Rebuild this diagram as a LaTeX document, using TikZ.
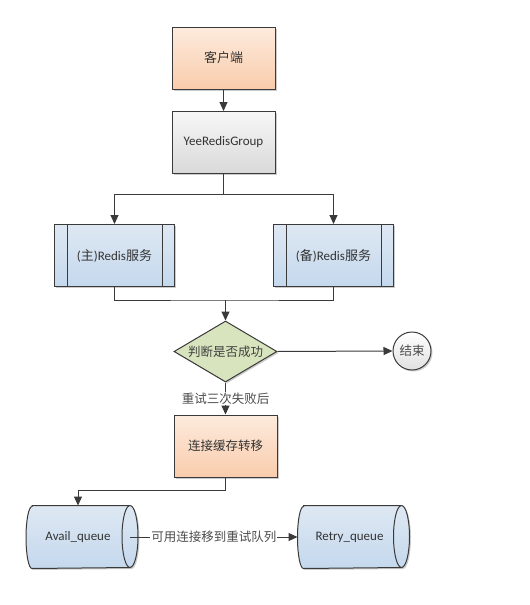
\documentclass[tikz,border=0pt]{standalone}
\usepackage{fontspec}
\setmainfont{Carlito}
\newfontfamily\cjk{Noto Sans CJK SC}
\usepackage{tikz}
\usetikzlibrary{shapes}
\usetikzlibrary{arrows.meta,shadows}
\definecolor{linegray}{HTML}{3A3A3A}
\definecolor{orangetop}{HTML}{FDEBDD}
\definecolor{orangebot}{HTML}{F9CCAC}
\definecolor{graytop}{HTML}{F7F7F7}
\definecolor{graybot}{HTML}{D9D9D9}
\definecolor{bluetop}{HTML}{DEE8F3}
\definecolor{bluebot}{HTML}{C4D8ED}
\definecolor{greenfill}{HTML}{D8E4BE}
\tikzstyle{softshadow}=[drop shadow={shadow xshift=1.5pt,shadow yshift=-1.5pt,fill=black,opacity=0.2}]
\tikzstyle{box}=[draw=linegray, rectangle, minimum width=103pt, minimum height=62pt, inner sep=0pt, font=\fontsize{13}{15}\selectfont, text=black!80, softshadow]
\tikzstyle{orangebox}=[box, top color=orangetop, bottom color=orangebot]
\tikzstyle{graybox}=[box, top color=graytop, bottom color=graybot]
\tikzstyle{bluebox}=[box, minimum width=120pt, top color=bluetop, bottom color=bluebot]
\tikzstyle{queue}=[rectangle, minimum width=103pt, minimum height=62pt, inner sep=0pt, font=\fontsize{13}{15}\selectfont, text=black!80]
\tikzstyle{arrow}=[draw=linegray, -{Triangle[length=9pt,width=8pt]}]
\tikzstyle{lbl}=[fill=white, inner sep=1pt, font=\cjk\fontsize{12.5}{15}\selectfont, text=black!70]

\begin{document}
\begin{tikzpicture}[x=1pt,y=-1pt,line width=1pt]
  \useasboundingbox[fill=white] (0,0) rectangle (530,605);
  % boxes
  \node[orangebox] (client) at (223.5,58) {\cjk 客户端};
  \node[graybox] (group) at (223.5,142.5) {YeeRedisGroup};
  \node[bluebox] (master) at (114.5,255.5) {({\cjk 主})Redis{\cjk 服务}};
  \node[bluebox] (backup) at (333.5,255.5) {({\cjk 备})Redis{\cjk 服务}};
  \foreach \n in {master,backup} {
    \draw[linegray] ([xshift=13pt]\n.north west) -- ([xshift=13pt]\n.south west);
    \draw[linegray] ([xshift=-13pt]\n.north east) -- ([xshift=-13pt]\n.south east);
  }
  \node[draw=linegray, diamond, aspect=1.69, minimum width=103pt, minimum height=61pt, inner sep=0pt, fill=greenfill, softshadow, font=\cjk\fontsize{12.5}{15}\selectfont, text=black!75] (judge) at (225.5,351.5) {判断是否成功};
  \node[draw=linegray, circle, minimum size=38pt, inner sep=0pt, top color=white, bottom color=black!12, softshadow, font=\cjk\fontsize{12.5}{15}\selectfont, text=black!70] (end) at (412,351) {结束};
  \node[orangebox, font=\cjk\fontsize{12.5}{15}\selectfont] (transfer) at (225.5,446) {连接缓存转移};
  % queues
  \node[queue] (avail) at (78,537) {};
  \node[queue] (retry) at (349.5,537) {};
  \foreach \n in {avail,retry} {
    \draw[draw=linegray, top color=bluetop, bottom color=bluebot, softshadow]
      ([xshift=6pt]\n.north west) -- (\n.north east)
      arc[start angle=-90, end angle=90, x radius=8, y radius=31]
      -- ([xshift=6pt]\n.south west)
      arc[start angle=90, end angle=270, x radius=6, y radius=31] -- cycle;
    \draw[linegray] (\n.north east) arc[start angle=270, end angle=90, x radius=8, y radius=31];
  }
  \node[queue] at (avail) {Avail\_queue};
  \node[queue] at (retry) {Retry\_queue};
  \coordinate (merge) at (225.5,300);
  % connectors
  \draw[arrow] (client) -- (group);
  \draw[arrow] (group.south) -- ++(0,20) -| (master.north);
  \draw[arrow] (group.south) -- ++(0,20) -| (backup.north);
  \draw[linegray] (master.south) |- (merge) -| (backup.south);
  \draw[arrow] (merge) -- (judge.north);
  \draw[arrow] (judge.east) -- (end.west);
  \draw[arrow] (judge.south) -- node[lbl] {重试三次失败后} (transfer.north);
  \draw[arrow] (transfer.south) -- ++(0,13) -| (avail.north);
  \draw[arrow] (avail.east) -- node[lbl] {可用连接移到重试队列} (retry.west);
\end{tikzpicture}
\end{document}
